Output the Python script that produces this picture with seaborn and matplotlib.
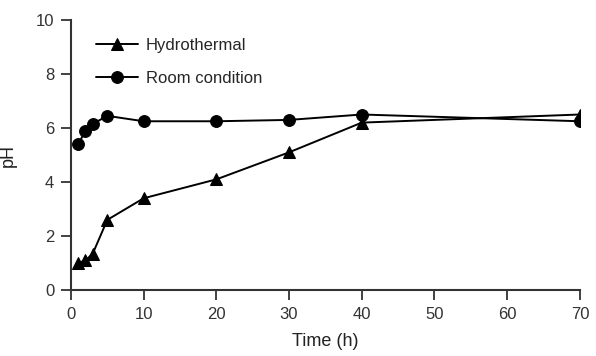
import matplotlib
matplotlib.use("Agg")
import matplotlib.pyplot as plt
import seaborn as sns
import pandas as pd

time_h = [1, 2, 3, 5, 10, 20, 30, 40, 70]
ph_hydrothermal = [1.0, 1.1, 1.35, 2.6, 3.4, 4.1, 5.1, 6.2, 6.5]
ph_room = [5.4, 5.9, 6.15, 6.45, 6.25, 6.25, 6.3, 6.5, 6.25]
series_names = ["Hydrothermal", "Room condition"]
x_ticks = [0, 10, 20, 30, 40, 50, 60, 70]
y_ticks = [0, 2, 4, 6, 8, 10]

df = pd.DataFrame({
    "Time": time_h * 2,
    "pH": ph_hydrothermal + ph_room,
    "Series": [series_names[0]] * len(time_h) + [series_names[1]] * len(time_h),
})

sns.set_style("ticks")
plt.rcParams["font.family"] = ["Liberation Sans", "DejaVu Sans"]

fig = plt.figure(figsize=(5.96, 3.56), dpi=100)
ax = fig.add_axes([0.119, 0.185, 0.854, 0.759])

sns.lineplot(data=df, x="Time", y="pH", hue="Series", style="Series",
             markers={"Hydrothermal": "^", "Room condition": "o"},
             dashes=False, palette={"Hydrothermal": "black", "Room condition": "black"},
             markersize=8.5, linewidth=1.4, markeredgecolor="black", ax=ax)

ax.set_xlim(0, 70)
ax.set_ylim(0, 10)
ax.set_xticks(x_ticks)
ax.set_yticks(y_ticks)
ax.set_xlabel("Time (h)", fontsize=13, color="#222222", labelpad=8)
ax.set_ylabel("pH", fontsize=13, color="#222222", labelpad=14)
ax.tick_params(labelsize=12, colors="#333333", length=7, width=1.3, direction="out", pad=5)
for s in ["left", "bottom"]:
    ax.spines[s].set_linewidth(1.5)
    ax.spines[s].set_color("#333333")
sns.despine(ax=ax)

leg = ax.legend(loc="upper left", bbox_to_anchor=(0.02, 0.99), frameon=False,
                fontsize=12, labelspacing=1.1, handlelength=2.5, handletextpad=0.5)
leg.set_title(None)

fig.savefig("out.png", dpi=100)
